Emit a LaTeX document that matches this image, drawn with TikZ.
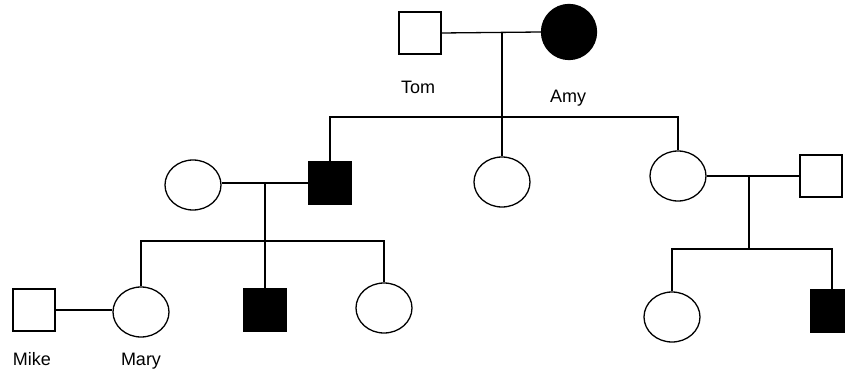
\documentclass[tikz,border=0pt]{standalone}
\usepackage{fontspec}
\setmainfont{Liberation Sans}
\usetikzlibrary{shapes.geometric}
\begin{document}
\begin{tikzpicture}[x=1pt,y=-1pt,
  line width=1.3pt,
  male/.style={draw, rectangle, minimum size=42pt, inner sep=0pt, fill=white},
  malea/.style={male, fill=black},
  female/.style={draw, ellipse, minimum width=56pt, minimum height=50pt, inner sep=0pt, fill=white},
  femalea/.style={draw, circle, minimum size=55pt, inner sep=0pt, fill=black},
  lbl/.style={anchor=base, inner sep=0pt, font=\fontsize{18}{20}\selectfont},
  link/.style={draw, line width=1.3pt}]
\useasboundingbox (0,0) rectangle (845,371);
% generation I
\node[male] (tom) at (420,33) {};
\node[femalea] (amy) at (569,32) {};
\coordinate (j1) at (502,33);
\node[lbl] (tomL) at (418,94) {Tom};
\node[lbl] (amyL) at (568,103) {Amy};
% generation II
\node[female] (w1) at (193,185) {};
\node[malea] (son) at (330,183) {};
\node[female] (md) at (502,182) {};
\node[female] (rd) at (678,176) {};
\node[male] (h2) at (821,176) {};
\coordinate (bar1) at (502,117);
\coordinate (j2) at (265,183);
\coordinate (j3) at (749,176);
% generation III
\node[male] (mike) at (34,310) {};
\node[female] (mary) at (141,312) {};
\node[malea] (gs1) at (265,310) {};
\node[female] (gd1) at (384,308) {};
\coordinate (bar2) at (265,241);
\node[female] (gd2) at (672,317) {};
\node[malea] (gs2) at (832,311) {};
\coordinate (bar3) at (749,249);
\node[lbl] (mikeL) at (32,365) {Mike};
\node[lbl] (maryL) at (141,365) {Mary};
% connectors
\draw[link] (tom.east) -- (amy.west);
\draw[link] (j1) -- (md.north);
\draw[link] (son.north) |- (bar1) -| (rd.north);
\draw[link] (w1.east |- son.west) -- (son.west);
\draw[link] (rd.east) -- (h2.west);
\draw[link] (j2) -- (bar2);
\draw[link] (mary.north) |- (bar2) -| (gd1.north);
\draw[link] (bar2) -- (gs1.north);
\draw[link] (mike.east) -- (mary.west |- mike.east);
\draw[link] (j3) -- (bar3);
\draw[link] (gd2.north) |- (bar3) -| (gs2.north);
\end{tikzpicture}
\end{document}
